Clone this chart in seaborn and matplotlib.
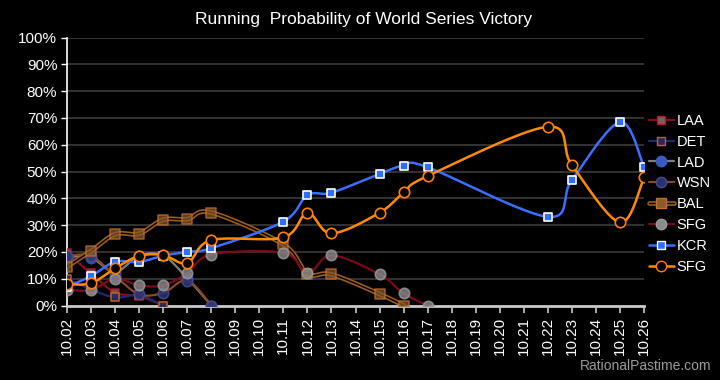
import numpy as np
import pandas as pd
import matplotlib
matplotlib.use("Agg")
import matplotlib.pyplot as plt
from matplotlib.lines import Line2D
from matplotlib.ticker import PercentFormatter
import seaborn as sns

sns.set_theme(style="dark")
plt.rcParams["font.family"] = ["Liberation Sans", "DejaVu Sans"]

nan = np.nan
dates = ["10.02", "10.03", "10.04", "10.05", "10.06", "10.07", "10.08", "10.09",
         "10.10", "10.11", "10.12", "10.13", "10.14", "10.15", "10.16", "10.17",
         "10.18", "10.19", "10.20", "10.21", "10.22", "10.23", "10.24", "10.25", "10.26"]

# probabilities (%), nan = no point that day
laa = [19.5, 12.0, 4.8, 3.5, 0.0] + [nan] * 20
det = [10.0, 6.0, 3.0, 3.8, 0.0] + [nan] * 20
lad = [18.2, 17.8, 12.5, 18.6, 18.6, 10.2, 0.0] + [nan] * 18
wsn = [18.5, 18.5, 11.0, 4.2, 4.7, 9.3, 0.0] + [nan] * 18
bal = [14.5, 20.3, 26.6, 26.8, 32.0, 32.2, 34.7, nan, nan, 22.8, 11.8, 11.6, nan,
       4.3, 0.0] + [nan] * 10
stl = [5.8, 5.8, 10.0, 7.5, 7.5, 12.0, 19.0, nan, nan, 19.7, 12.0, 18.7, nan,
       11.6, 4.5, 0.0] + [nan] * 9
kcr = [7.0, 11.0, 16.3, 16.2, 18.6, 20.0, 21.4, nan, nan, 31.3, 41.2, 42.1, nan,
       49.1, 52.2, 51.6, nan, nan, nan, nan, 33.1, 46.8, nan, 68.4, 51.6]
sfg = [8.0, 8.3, 13.9, 18.5, 18.8, 15.8, 24.4, nan, nan, 25.4, 34.6, 26.9, nan,
       34.6, 42.2, 48.3, nan, nan, nan, nan, 66.7, 52.4, nan, 31.0, 47.8]

labels = ["LAA", "DET", "LAD", "WSN", "BAL", "SFG", "KCR", "SFG"]
values = [laa, det, lad, wsn, bal, stl, kcr, sfg]

styles = [
    dict(lc="#8a0c1c", lw=1.6, m="s", ms=6, fc="#7a6060", ec="#b01828", a=0.85),
    dict(lc="#1c2a72", lw=1.6, m="s", ms=5.5, fc="#262a5a", ec="#c0602a", a=0.9),
    dict(lc="#7f7f7f", lw=1.6, m="o", ms=7.5, fc="#3a5cc0", ec="#3a5cc0", a=0.75),
    dict(lc="#8a4a1a", lw=1.6, m="o", ms=7.5, fc="#2a3272", ec="#4a4a8a", a=0.85),
    dict(lc="#9a5a1a", lw=3.4, m="s", ms=6.5, fc="#8a5a2a", ec="#c07030", a=0.7),
    dict(lc="#7a0a1a", lw=1.6, m="o", ms=7.5, fc="#8a8a8a", ec="#9a9a9a", a=0.8),
    dict(lc="#3a6fff", lw=1.8, m="s", ms=6, fc="#2f6fff", ec="white", a=1.0),
    dict(lc="#ff8a00", lw=1.8, m="o", ms=7.5, fc="black", ec="#ff8000", a=1.0),
]


def smooth(xs, ys, n=24):
    # Excel-like smoothed line (Catmull-Rom through the points)
    p = np.array([(x, y) for x, y in zip(xs, ys) if not np.isnan(y)])
    out = []
    for i in range(len(p) - 1):
        p0 = p[i - 1] if i > 0 else p[i]
        p1, p2 = p[i], p[i + 1]
        p3 = p[i + 2] if i + 2 < len(p) else p[i + 1]
        c1 = p1 + (p2 - p0) / 6
        c2 = p2 - (p3 - p1) / 6
        t = np.linspace(0, 1, n)[:, None]
        seg = ((1 - t) ** 3) * p1 + 3 * ((1 - t) ** 2) * t * c1 + 3 * (1 - t) * t ** 2 * c2 + t ** 3 * p2
        out.append(seg if i == 0 else seg[1:])
    return np.vstack(out)


fig = plt.figure(figsize=(7.2, 3.8), dpi=100, facecolor="black")
ax = fig.add_axes([67 / 720, 1 - 305.5 / 380, (644 - 67) / 720, (305.5 - 37.5) / 380])
ax.set_facecolor("black")

xidx = np.arange(len(dates))
handles = []
for k, (lab, vals, st) in enumerate(zip(labels, values, styles)):
    y = np.array(vals, dtype=float) / 100
    curve = smooth(xidx, y)
    sns.lineplot(x=curve[:, 0], y=curve[:, 1], ax=ax, color=st["lc"], lw=st["lw"],
                 sort=False, estimator=None, zorder=3 + k)
    if lab == "BAL":
        sns.lineplot(x=curve[:, 0], y=curve[:, 1], ax=ax, color="black", lw=1.0,
                     sort=False, estimator=None, zorder=3 + k)
    ok = ~np.isnan(y)
    sns.scatterplot(x=xidx[ok], y=y[ok], ax=ax, marker=st["m"], s=st["ms"] ** 2,
                    color=st["fc"], edgecolor=st["ec"], linewidth=1.2,
                    alpha=st["a"], zorder=3.5 + k)
    h = Line2D([], [], color=st["lc"], lw=min(st["lw"], 2), marker=st["m"],
               markersize=st["ms"], markerfacecolor=st["fc"],
               markeredgecolor=st["ec"], alpha=1)
    if lab == "BAL":
        h = (Line2D([], [], color=st["lc"], lw=3.4),
             Line2D([], [], color="black", lw=1.0, marker=st["m"], markersize=st["ms"],
                    markerfacecolor=st["fc"], markeredgecolor=st["ec"]))
    handles.append(h)

ax.set_xlim(0, len(dates) - 1)
ax.set_ylim(0, 1)
ax.set_xticks(xidx)
ax.set_xticklabels(dates, rotation=90, color="white", fontsize=11)
ax.set_yticks(np.linspace(0, 1, 11))
ax.yaxis.set_major_formatter(PercentFormatter(1.0, decimals=0))
ax.tick_params(axis="y", colors="white", labelsize=11, length=4, width=1, direction="out", left=True, pad=3)
ax.tick_params(axis="x", colors="#c8c8c8", labelcolor="white", length=5, width=1.2, direction="out", bottom=True, pad=3)
ax.grid(axis="y", color="#3c3c3c", lw=1.2)
ax.grid(axis="x", visible=False)
ax.set_axisbelow(True)
ax.set_xlabel("")
ax.set_ylabel("")
for s in ["top", "right"]:
    ax.spines[s].set_visible(False)
ax.spines["left"].set_color("white")
ax.spines["left"].set_linewidth(1.2)
ax.spines["bottom"].set_color("#c8c8c8")
ax.spines["bottom"].set_linewidth(2)

leg = fig.legend(handles, labels, loc="center left", bbox_to_anchor=(0.893, 0.49),
                 frameon=False, fontsize=10.5, labelcolor="white", handlelength=1.7,
                 handletextpad=0.2, labelspacing=0.47, borderaxespad=0)

fig.suptitle("Running  Probability of World Series Victory", x=0.505, y=0.968,
             color="white", fontsize=12.5)
fig.text(0.988, 0.018, "RationalPastime.com", color="#9a9a9a", fontsize=10, ha="right", va="bottom")

fig.savefig("out.png", dpi=100, facecolor="black")
